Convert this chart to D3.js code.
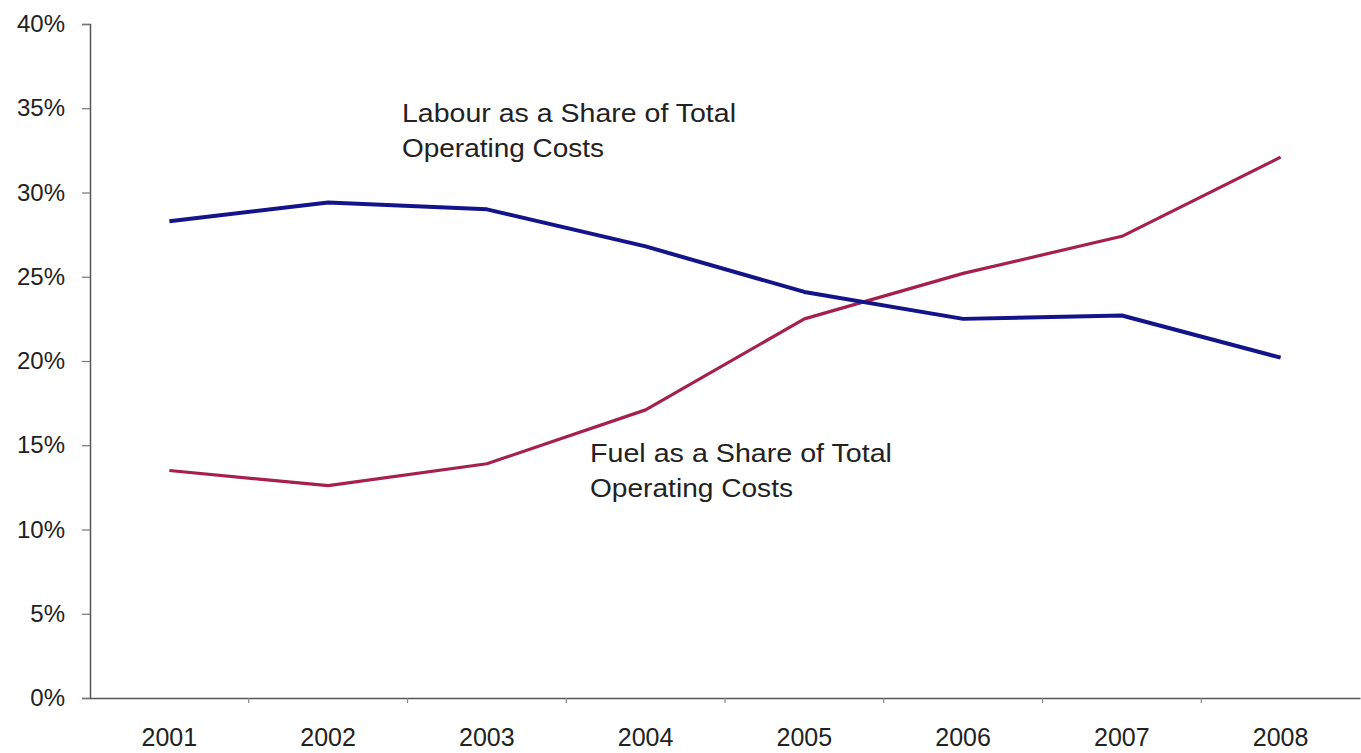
<!DOCTYPE html>
<html>
<head>
<meta charset="utf-8">
<script src="https://cdn.jsdelivr.net/npm/d3@7/dist/d3.min.js"></script>
<style>
  html, body { margin: 0; padding: 0; background: #ffffff; }
  svg { display: block; }
  text { font-family: "Liberation Sans", Arial, sans-serif; fill: #222; }
</style>
</head>
<body>
<svg id="chart" width="1361" height="753"></svg>
<script>
// Years on the category axis
const years = ["2001", "2002", "2003", "2004", "2005", "2006", "2007", "2008"];
// Labour costs as a share of total operating costs (%)
const labourShare = [28.3, 29.4, 29.0, 26.8, 24.1, 22.5, 22.7, 20.2];
// Fuel costs as a share of total operating costs (%)
const fuelShare = [13.5, 12.6, 13.9, 17.1, 22.5, 25.2, 27.4, 32.1];
// Value axis ticks (%)
const yTicks = [0, 5, 10, 15, 20, 25, 30, 35, 40];
// Line annotations
const labourLabel = ["Labour as a Share of Total", "Operating Costs"];
const fuelLabel = ["Fuel as a Share of Total", "Operating Costs"];

const svg = d3.select("#chart");
const plot = { left: 90, right: 1360, top: 24, bottom: 698 };
const FONT = "Liberation Sans, Arial, sans-serif";

const x = d3.scaleBand().domain(years).range([plot.left, plot.right]).paddingInner(0).paddingOuter(0);
const y = d3.scaleLinear().domain([0, 40]).range([plot.bottom, plot.top]);
const cx = d => x(d) + x.bandwidth() / 2;

// Y axis
const yAxis = svg.append("g")
  .attr("transform", `translate(${plot.left},0)`)
  .call(d3.axisLeft(y).tickValues(yTicks).tickFormat(d => d + "%").tickSize(8).tickPadding(17));
yAxis.select(".domain").attr("stroke", "#555").attr("stroke-width", 1.5);
yAxis.selectAll(".tick line").attr("stroke", "#777").attr("stroke-width", 1.2);
yAxis.selectAll(".tick text").attr("font-size", 24).attr("fill", "#222").style("font-family", FONT);

// X axis: labels centred in each band, tick marks on band boundaries
const xAxis = svg.append("g")
  .attr("transform", `translate(0,${plot.bottom})`)
  .call(d3.axisBottom(x).tickSize(0).tickPadding(30).tickSizeOuter(0));
xAxis.select(".domain").attr("stroke", "#555").attr("stroke-width", 1.5);
xAxis.selectAll(".tick text").attr("font-size", 25).attr("fill", "#222").style("font-family", FONT);
xAxis.selectAll(".boundary")
  .data(years.slice(1))
  .enter().append("line")
  .attr("class", "boundary")
  .attr("x1", d => x(d)).attr("x2", d => x(d))
  .attr("y1", 0).attr("y2", 5)
  .attr("stroke", "#888").attr("stroke-width", 1.2);

// Series lines
const line = d3.line().x((d, i) => cx(years[i])).y(d => y(d));

svg.append("path")
  .datum(fuelShare)
  .attr("fill", "none")
  .attr("stroke", "#a6204c")
  .attr("stroke-width", 3.2)
  .attr("stroke-linejoin", "round")
  .attr("d", line);

svg.append("path")
  .datum(labourShare)
  .attr("fill", "none")
  .attr("stroke", "#14148a")
  .attr("stroke-width", 4)
  .attr("stroke-linejoin", "round")
  .attr("d", line);

// Annotations, two lines each; widths keep the wide label lettering
function annotate(lines, widths, x0, y0) {
  const t = svg.append("text").attr("font-size", 26).attr("fill", "#1a1a1a");
  lines.forEach((s, i) => {
    t.append("tspan")
      .attr("x", x0).attr("y", y0 + i * 35)
      .attr("textLength", widths[i])
      .attr("lengthAdjust", "spacingAndGlyphs")
      .text(s);
  });
}
annotate(labourLabel, [334, 202], 402, 122);
annotate(fuelLabel, [302, 203], 590, 462);
</script>
</body>
</html>
